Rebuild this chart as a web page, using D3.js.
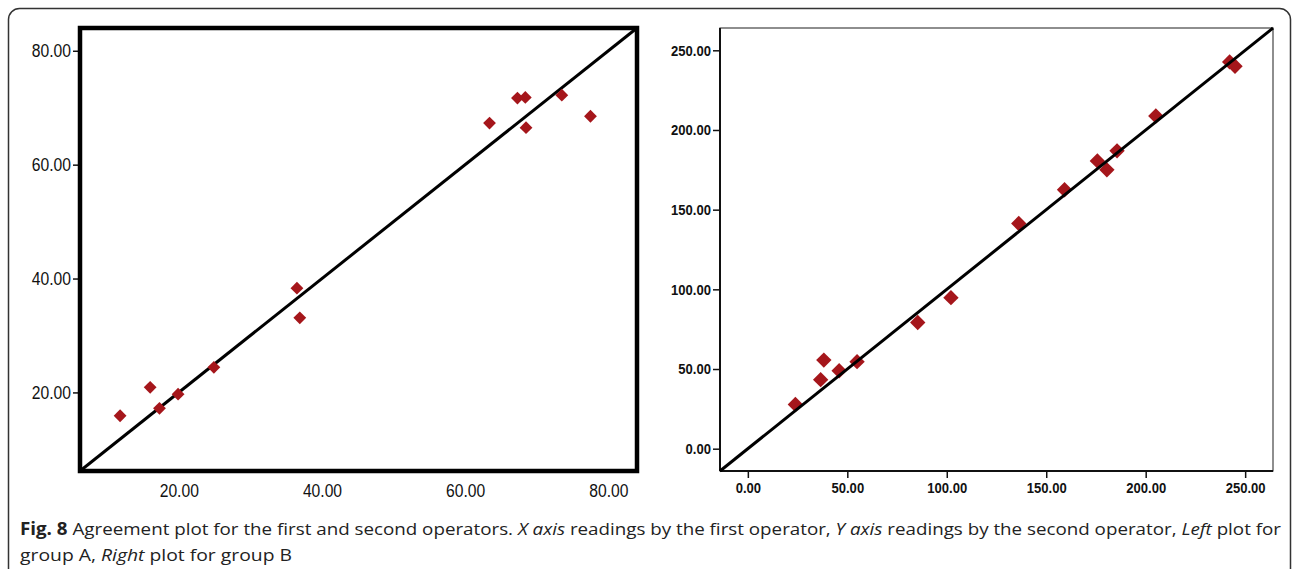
<html>
  <head>
    <meta charset="utf-8">
    <script src="https://d3js.org/d3.v7.min.js"></script>
    <style type="text/css">
      body { margin: 0; background: #fff; }
      svg { display: block; }
      .tickL text { font-family: "Liberation Sans", Arial, sans-serif; font-size: 18px; fill: #111; }
      .tickR text { font-family: "Liberation Sans", Arial, sans-serif; font-size: 15px; font-weight: bold; fill: #111; }
      .caption { font-family: "Open Sans", "Noto Sans", sans-serif; font-size: 17px; fill: #222; }
    </style>
  </head>
  <body>
    <svg width="1292" height="569"></svg>
    <script>
      // group A (left plot): first operator vs second operator
      var groupA_x = [63.4, 67.3, 68.4, 68.5, 73.5, 77.5, 36.5, 36.9, 24.9, 16.0, 19.9, 17.3, 11.8];
      var groupA_y = [67.3, 71.7, 71.8, 66.5, 72.2, 68.5, 38.3, 33.1, 24.4, 20.9, 19.7, 17.2, 15.9];
      var ticksA = [20, 40, 60, 80];

      // group B (right plot)
      var groupB_x = [242.2, 244.9, 205.1, 185.6, 175.7, 180.5, 159.2, 136.2, 102.1, 85.4, 54.9, 45.9, 38.2, 36.6, 23.9];
      var groupB_y = [242.7, 240.0, 208.8, 186.9, 180.6, 175.0, 162.5, 141.3, 94.8, 79.2, 54.6, 48.9, 55.6, 43.3, 27.7];
      var ticksB = [0, 50, 100, 150, 200, 250];

      var markerColor = "#a5161b";
      var fmt = d3.format(".2f");
      var svg = d3.select("svg");

      // the SPSS labels are a narrow face, squeeze the glyphs a bit
      function narrow(g) {
        g.selectAll("text").each(function() {
          var w = this.getComputedTextLength();
          d3.select(this).attr("textLength", w * 0.87).attr("lengthAdjust", "spacingAndGlyphs");
        });
      }

      // outer figure box
      svg.append("rect")
        .attr("x", 8.5).attr("y", 8.5)
        .attr("width", 1282).attr("height", 572)
        .attr("rx", 11)
        .attr("fill", "none")
        .attr("stroke", "#333")
        .attr("stroke-width", 1.5);

      // ---- left plot ----
      var xL = d3.scaleLinear().domain([6.2, 84]).range([80, 637]);
      var yL = d3.scaleLinear().domain([6.2, 84]).range([471, 28]);
      var gL = svg.append("g");

      gL.append("g")
        .attr("class", "tickL")
        .attr("transform", "translate(80,0)")
        .call(d3.axisLeft(yL).tickValues(ticksA).tickFormat(fmt).tickSize(7).tickPadding(2))
        .call(function(g) { g.select(".domain").remove(); })
        .call(function(g) { g.selectAll("line").attr("stroke", "#111").attr("stroke-width", 1.5); })
        .call(narrow);

      gL.append("g")
        .attr("class", "tickL")
        .attr("transform", "translate(0,471)")
        .call(d3.axisBottom(xL).tickValues(ticksA).tickFormat(fmt).tickSize(0).tickPadding(13))
        .call(function(g) { g.select(".domain").remove(); })
        .call(narrow);

      gL.append("line")
        .attr("x1", xL(6.2)).attr("y1", yL(6.2))
        .attr("x2", xL(84)).attr("y2", yL(84))
        .attr("stroke", "#000").attr("stroke-width", 3);

      gL.selectAll("path.pt")
        .data(d3.range(groupA_x.length))
        .enter().append("path")
        .attr("class", "pt")
        .attr("d", d3.symbol().type(d3.symbolSquare).size(82))
        .attr("transform", function(i) { return "translate(" + xL(groupA_x[i]) + "," + yL(groupA_y[i]) + ") rotate(45)"; })
        .attr("fill", markerColor);

      gL.append("rect")
        .attr("x", 80).attr("y", 28)
        .attr("width", 557).attr("height", 443)
        .attr("fill", "none")
        .attr("stroke", "#000")
        .attr("stroke-width", 4.5);

      // ---- right plot ----
      var xR = d3.scaleLinear().domain([-14, 264]).range([720, 1273]);
      var yR = d3.scaleLinear().domain([-14, 264]).range([471, 28]);
      var gR = svg.append("g");

      gR.append("rect")
        .attr("x", 720).attr("y", 28)
        .attr("width", 553).attr("height", 443)
        .attr("fill", "none")
        .attr("stroke", "#444")
        .attr("stroke-width", 1.2);

      gR.append("g")
        .attr("class", "tickR")
        .attr("transform", "translate(720,0)")
        .call(d3.axisLeft(yR).tickValues(ticksB).tickFormat(fmt).tickSize(7).tickPadding(2))
        .call(function(g) { g.select(".domain").attr("d", "M0,28V471").attr("stroke", "#111").attr("stroke-width", 2); })
        .call(function(g) { g.selectAll(".tick line").attr("stroke", "#111").attr("stroke-width", 1.5); })
        .call(narrow);

      gR.append("g")
        .attr("class", "tickR")
        .attr("transform", "translate(0,471)")
        .call(d3.axisBottom(xR).tickValues(ticksB).tickFormat(fmt).tickSize(7).tickPadding(4))
        .call(function(g) { g.select(".domain").attr("d", "M720,0H1273").attr("stroke", "#111").attr("stroke-width", 2); })
        .call(function(g) { g.selectAll(".tick line").attr("stroke", "#111").attr("stroke-width", 1.5); })
        .call(narrow);

      gR.selectAll("path.pt")
        .data(d3.range(groupB_x.length))
        .enter().append("path")
        .attr("class", "pt")
        .attr("d", d3.symbol().type(d3.symbolSquare).size(118))
        .attr("transform", function(i) { return "translate(" + xR(groupB_x[i]) + "," + yR(groupB_y[i]) + ") rotate(45)"; })
        .attr("fill", markerColor);

      gR.append("line")
        .attr("x1", xR(-14)).attr("y1", yR(-14))
        .attr("x2", xR(264)).attr("y2", yR(264))
        .attr("stroke", "#000").attr("stroke-width", 3);

      // ---- caption ----
      var cap1 = svg.append("text")
        .attr("class", "caption")
        .attr("x", 20).attr("y", 535)
        .attr("textLength", 1261)
        .attr("lengthAdjust", "spacingAndGlyphs");
      cap1.append("tspan").attr("font-weight", "bold").text("Fig. 8");
      cap1.append("tspan").text(" Agreement plot for the first and second operators. ");
      cap1.append("tspan").attr("font-style", "italic").text("X axis");
      cap1.append("tspan").text(" readings by the first operator, ");
      cap1.append("tspan").attr("font-style", "italic").text("Y axis");
      cap1.append("tspan").text(" readings by the second operator, ");
      cap1.append("tspan").attr("font-style", "italic").text("Left");
      cap1.append("tspan").text(" plot for");

      var cap2 = svg.append("text")
        .attr("class", "caption")
        .attr("x", 20).attr("y", 561)
        .attr("textLength", 272)
        .attr("lengthAdjust", "spacingAndGlyphs");
      cap2.append("tspan").text("group A, ");
      cap2.append("tspan").attr("font-style", "italic").text("Right");
      cap2.append("tspan").text(" plot for group B");
    </script>
  </body>
</html>
